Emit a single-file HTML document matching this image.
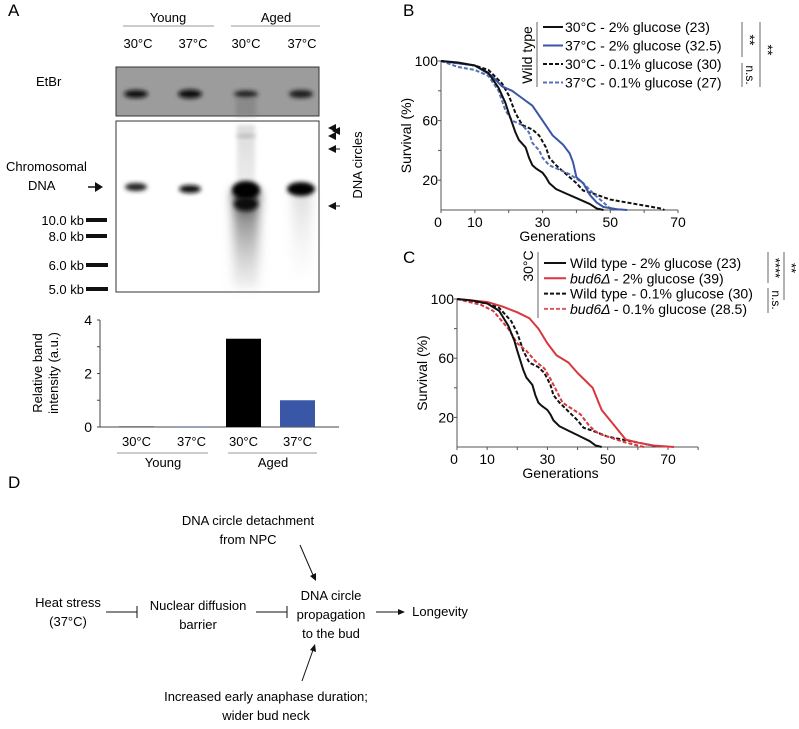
<!DOCTYPE html>
<html><head><meta charset="utf-8"><style>
body{margin:0;background:#fff;}
svg{display:block;font-family:"Liberation Sans",Arial,sans-serif;}
</style></head><body>
<svg id="fig" width="799" height="729" viewBox="0 0 799 729">
<defs>
<filter id="bl" x="-50%" y="-50%" width="200%" height="200%"><feGaussianBlur stdDeviation="2"/></filter>
<filter id="bl5" x="-50%" y="-50%" width="200%" height="200%"><feGaussianBlur stdDeviation="5"/></filter>
<linearGradient id="smear" x1="0" y1="0" x2="0" y2="1"><stop offset="0" stop-color="#000" stop-opacity="0.9"/><stop offset="0.3" stop-color="#555" stop-opacity="0.6"/><stop offset="1" stop-color="#bbb" stop-opacity="0.2"/></linearGradient>
<linearGradient id="smear2" x1="0" y1="0" x2="0" y2="1"><stop offset="0" stop-color="#999" stop-opacity="0.35"/><stop offset="1" stop-color="#ddd" stop-opacity="0.05"/></linearGradient>
</defs>
<g font-size="13">
<text x="8" y="16" font-size="17">A</text>
<text x="168" y="22" text-anchor="middle">Young</text>
<text x="276" y="22" text-anchor="middle">Aged</text>
<line x1="123" y1="26" x2="214" y2="26" stroke="#999"/><line x1="231" y1="26" x2="320" y2="26" stroke="#999"/>
<text x="138" y="48" text-anchor="middle">30°C</text><text x="193" y="48" text-anchor="middle">37°C</text>
<text x="246" y="48" text-anchor="middle">30°C</text><text x="302" y="48" text-anchor="middle">37°C</text>
<text x="36" y="86">EtBr</text>
<g>
<rect x="116" y="67" width="203" height="49" fill="#9c9c9c" stroke="#333"/>
<ellipse cx="136" cy="94" rx="12" ry="4" fill="#111" filter="url(#bl)"/>
<ellipse cx="190" cy="94" rx="12" ry="4.5" fill="#111" filter="url(#bl)"/>
<ellipse cx="246" cy="94" rx="12" ry="3.5" fill="#222" filter="url(#bl)"/>
<ellipse cx="301" cy="94" rx="12" ry="4" fill="#1a1a1a" filter="url(#bl)"/>
<rect x="236" y="98" width="20" height="18" fill="#777" opacity="0.5" filter="url(#bl)"/>
</g>
<g>
<rect x="116" y="121" width="203" height="171" fill="#fff" stroke="#333"/>
<rect x="237" y="125" width="18" height="165" fill="url(#smear2)" filter="url(#bl)"/>
<rect x="233" y="190" width="26" height="98" fill="url(#smear)" filter="url(#bl5)"/>
<rect x="292" y="190" width="20" height="90" fill="url(#smear2)" filter="url(#bl5)"/>
<ellipse cx="136" cy="187" rx="11" ry="4" fill="#222" filter="url(#bl)"/>
<ellipse cx="190" cy="189" rx="11" ry="4" fill="#111" filter="url(#bl)"/>
<ellipse cx="246" cy="190" rx="14" ry="9" fill="#000" filter="url(#bl)"/>
<ellipse cx="246" cy="204" rx="12" ry="7" fill="#111" filter="url(#bl)"/>
<ellipse cx="301" cy="189" rx="14" ry="7" fill="#000" filter="url(#bl)"/>
<ellipse cx="246" cy="136" rx="10" ry="2" fill="#bbb" filter="url(#bl)"/>
</g>
<text x="6" y="171">Chromosomal</text>
<text x="28" y="190">DNA</text>
<polygon points="95,182 103,187 95,192" fill="#111"/>
<line x1="88" y1="187" x2="96" y2="187" stroke="#111" stroke-width="1.5"/>
<g text-anchor="end">
<text x="84" y="225">10.0 kb</text><rect x="86" y="218" width="21" height="4" fill="#111"/>
<text x="84" y="241">8.0 kb</text><rect x="86" y="234" width="21" height="4" fill="#111"/>
<text x="84" y="270">6.0 kb</text><rect x="86" y="263" width="22" height="4" fill="#111"/>
<text x="84" y="294">5.0 kb</text><rect x="86" y="287" width="22" height="4" fill="#111"/>
</g>
<g fill="#111">
<polygon points="328,128 336,124 336,132"/><polygon points="332,131 340,127 340,135"/><polygon points="328,136 336,132 336,140"/>
<polygon points="328,149 336,145 336,153"/><line x1="335" y1="149" x2="340" y2="149" stroke="#111"/>
<polygon points="328,206 336,202 336,210"/><line x1="335" y1="206" x2="340" y2="206" stroke="#111"/>
</g>
<text transform="translate(362,165) rotate(-90)" text-anchor="middle">DNA circles</text>
</g>
<g id="barchart" font-size="13"></g>
<text x="403" y="16" font-size="17">B</text>
<g id="chartB" font-size="13"></g>
<text x="403" y="263" font-size="17">C</text>
<g id="chartC" font-size="13"></g>
<g font-size="13" text-anchor="middle">
<text x="8" y="488" font-size="17" text-anchor="start">D</text>
<text x="248" y="525">DNA circle detachment</text><text x="248" y="544">from NPC</text>
<text x="68" y="607">Heat stress</text><text x="68" y="626">(37°C)</text>
<line x1="106" y1="612" x2="137" y2="612" stroke="#111"/><line x1="137" y1="606" x2="137" y2="618" stroke="#111"/>
<text x="198" y="610">Nuclear diffusion</text><text x="198" y="629">barrier</text>
<line x1="256" y1="612" x2="287" y2="612" stroke="#111"/><line x1="287" y1="606" x2="287" y2="618" stroke="#111"/>
<text x="331" y="600">DNA circle</text><text x="331" y="619">propagation</text><text x="331" y="638">to the bud</text>
<line x1="376" y1="612" x2="400" y2="612" stroke="#111"/><polygon points="398,609 405,612 398,615" fill="#111"/>
<text x="440" y="616">Longevity</text>
<line x1="300" y1="545" x2="313" y2="575" stroke="#111"/><polygon points="310,576 316,581 316,573" fill="#111"/>
<line x1="302" y1="681" x2="313" y2="650" stroke="#111"/><polygon points="310,650 315,644 316,652" fill="#111"/>
<text x="266" y="701">Increased early anaphase duration;</text><text x="266" y="720">wider bud neck</text>
</g>
</svg>
<script>
const NS="http://www.w3.org/2000/svg";
function mk(parent,tag,attrs,text){const e=document.createElementNS(NS,tag);for(const k in attrs)e.setAttribute(k,attrs[k]);if(text!==undefined)e.textContent=text;parent.appendChild(e);return e;}

const barCategories=["Young 30°C","Young 37°C","Aged 30°C","Aged 37°C"];
const barValues=[0.02,0.02,3.3,1.0];
const barColors=["#111","#3a56a6","#000","#3a56a6"];
const barTicks=[0,2,4];
(function(){
 const g=document.getElementById('barchart');
 const x0=100,y0=427,yTop=320,vmax=4;
 const ys=v=>y0-(v/vmax)*(y0-yTop);
 mk(g,'line',{x1:x0,y1:yTop,x2:x0,y2:y0,stroke:'#444'});
 mk(g,'line',{x1:x0,y1:y0,x2:339,y2:y0,stroke:'#444'});
 for(let t=0;t<=4;t++){mk(g,'line',{x1:x0-3,y1:ys(t),x2:x0,y2:ys(t),stroke:'#444'});}
 barTicks.forEach(t=>{const tl=mk(g,'text',{x:x0-8,y:ys(t)+5,'text-anchor':'end','font-size':14},t);
 
 });
 const lab=mk(g,'text',{transform:'translate(42,373) rotate(-90)','text-anchor':'middle'},'Relative band');
 
 
 mk(g,'text',{transform:'translate(58,373) rotate(-90)','text-anchor':'middle'},'intensity (a.u.)');
 const step=55,first=119,w=35;
 barValues.forEach((v,i)=>{
  const x=first+i*step - (i>=2?(i-2)*1+3:0);
  const r=mk(g,'rect',{x:x,y:ys(v),width:w,height:y0-ys(v),fill:barColors[i]});
  
  
  mk(g,'text',{x:x+w/2,y:446,'text-anchor':'middle'},barCategories[i].split(' ')[1]);
 });
 mk(g,'line',{x1:117,y1:453,x2:208,y2:453,stroke:'#999'});
 mk(g,'line',{x1:228,y1:453,x2:317,y2:453,stroke:'#999'});
 mk(g,'text',{x:163,y:467,'text-anchor':'middle'},'Young');
 mk(g,'text',{x:273,y:467,'text-anchor':'middle'},'Aged');
})();

const wt2Gen=[0,5,10,14,17,19,20,22,23,25,26,27,28,30,31,32,34,37,40,42,44,46,48];
const wt2Surv=[100,99,97,92,82,72,65,52,47,42,35,30,28,25,22,18,14,11,8,6,4,1,0];
const wt37Gen=[0,10,15,18,21,24,27,30,33,36,38,39,40,42,44,46,48,52,55];
const wt37Surv=[100,97,90,83,80,75,70,60,50,44,38,32,22,18,10,5,2,0.5,0];
const wtLowGen=[0,10,14,18,20,22,24,27,29,31,32,34,37,40,42,45,50,55,60,65,66];
const wtLowSurv=[100,97,94,85,77,65,57,54,50,42,35,30,24,18,13,11,7,5,3,1,0];
const wt37LowGen=[0,5,10,14,17,19,21,24,26,27,29,30,32,35,38,42,45,48,50,51];
const wt37LowSurv=[100,96,94,90,80,67,60,57,52,45,40,35,30,27,24,18,11,5,1,0];
const bud2Gen=[0,10,15,20,24,27,30,33,37,40,43,45,47,48,50,52,54,56,60,65,72];
const bud2Surv=[100,98,95,91,87,80,70,62,57,50,44,40,30,25,20,15,10,5,3,1,0];
const budLowGen=[0,8,12,17,20,23,26,29,31,33,35,38,41,44,47,50,53,56,60,62];
const budLowSurv=[100,96,92,80,70,65,58,53,46,38,30,26,22,14,9,7,5,3,1,0];
const genTicks=[0,10,30,50,70];
const survTicks=[20,60,100];

function survivalChart(gId,ax,series,legend){
 const g=document.getElementById(gId);
 const xs=v=>ax.x0+v*(ax.x70-ax.x0)/70;
 const ys=v=>ax.y0-v*(ax.y0-ax.y100)/100;
 mk(g,'line',{x1:xs(0),y1:ys(100),x2:xs(0),y2:ys(0),stroke:'#555'});
 mk(g,'line',{x1:xs(0),y1:ys(0),x2:xs(ax.xmax),y2:ys(0),stroke:'#555'});
 for(let t=0;t<=ax.xmax;t+=10)mk(g,'line',{x1:xs(t),y1:ys(0),x2:xs(t),y2:ys(0)+3,stroke:'#555'});
 for(let t=20;t<=100;t+=20)mk(g,'line',{x1:xs(0)-3,y1:ys(t),x2:xs(0),y2:ys(t),stroke:'#555'});
 genTicks.forEach(t=>{const e=mk(g,'text',{x:xs(t)-(t===0?3:0),y:ys(0)+17,'text-anchor':'middle','font-size':14},t);
 
 });
 survTicks.forEach(t=>{const e=mk(g,'text',{x:xs(0)-3,y:ys(t)+5,'text-anchor':'end','font-size':14},t);
 
 });
 const xt=mk(g,'text',{x:(xs(0)+xs(70))/2-2,y:ys(0)+31,'text-anchor':'middle','font-size':14},'Generations');
 
 
 const yt=mk(g,'text',{transform:`translate(${xs(0)-30},${ys(50)}) rotate(-90)`,'text-anchor':'middle','font-size':14},'Survival (%)');
 
 
 series.forEach(s=>{
  let d='';
  s.gen.forEach((gv,i)=>{d+=(i?' L':'M')+xs(gv)+','+ys(s.surv[i]);});
  const p=mk(g,'path',{d:d,fill:'none',stroke:s.color,'stroke-width':2,'stroke-linejoin':'round','stroke-dasharray':s.dash?'4,2':'none'});
  
  
 });
 legend(g);
}
survivalChart('chartB',{x0:441,x70:678,y0:210,y100:61,xmax:70},[
 {gen:wtLowGen,surv:wtLowSurv,color:'#111',dash:true,name:'line-30c-low-glucose'},
 {gen:wt37LowGen,surv:wt37LowSurv,color:'#5571b5',dash:true,name:'line-37c-low-glucose'},
 {gen:wt37Gen,surv:wt37Surv,color:'#3a56a6',dash:false,name:'line-37c-2pct-glucose'},
 {gen:wt2Gen,surv:wt2Surv,color:'#111',dash:false,name:'line-30c-2pct-glucose'}],function(g){
 const rows=[['30°C - 2% glucose (23)','#111',false],['37°C - 2% glucose (32.5)','#3a56a6',false],['30°C - 0.1% glucose (30)','#111',true],['37°C - 0.1% glucose (27)','#5571b5',true]];
 rows.forEach((r,i)=>{const y=27+i*18.5;
  mk(g,'line',{x1:543,y1:y,x2:563,y2:y,stroke:r[1],'stroke-width':2,'stroke-dasharray':r[2]?'4,2':'none'});
  const t=mk(g,'text',{x:565,y:y+5,'font-size':14},r[0]);
  
  });
 mk(g,'line',{x1:537,y1:22,x2:537,y2:87,stroke:'#666'});
 mk(g,'text',{transform:'translate(532,55) rotate(-90)','text-anchor':'middle','font-size':14},'Wild type');
 mk(g,'line',{x1:742,y1:22,x2:742,y2:57,stroke:'#666'});
 mk(g,'line',{x1:742,y1:63,x2:742,y2:87,stroke:'#666'});
 mk(g,'line',{x1:760,y1:22,x2:760,y2:87,stroke:'#666'});
 mk(g,'text',{transform:'translate(745,40) rotate(90)','text-anchor':'middle','font-size':14},'**');
 mk(g,'text',{transform:'translate(746,75) rotate(90)','text-anchor':'middle','font-size':12},'n.s.');
 mk(g,'text',{transform:'translate(763,50) rotate(90)','text-anchor':'middle','font-size':14},'**');
});
survivalChart('chartC',{x0:457,x70:668,y0:447,y100:299,xmax:80},[
 {gen:wtLowGen,surv:wtLowSurv,color:'#111',dash:true,name:'line-wt-low-glucose'},
 {gen:budLowGen,surv:budLowSurv,color:'#d9363e',dash:true,name:'line-bud6-low-glucose'},
 {gen:bud2Gen,surv:bud2Surv,color:'#d9363e',dash:false,name:'line-bud6-2pct-glucose'},
 {gen:wt2Gen,surv:wt2Surv,color:'#111',dash:false,name:'line-wt-2pct-glucose'}],function(g){
 const rows=[['Wild type - 2% glucose (23)','#111',false,null],['- 2% glucose (39)','#d9363e',false,'bud6'],['Wild type - 0.1% glucose (30)','#111',true,null],['- 0.1% glucose (28.5)','#e05a60',true,'bud6']];
 rows.forEach((r,i)=>{const y=263+i*15.3;
  mk(g,'line',{x1:544,y1:y,x2:566,y2:y,stroke:r[1],'stroke-width':2,'stroke-dasharray':r[2]?'4,2':'none'});
  const t=mk(g,'text',{x:570,y:y+5,'font-size':14});
  
  
  if(r[3]){mk(t,'tspan',{'font-style':'italic'},'bud6\u0394 ');}
  mk(t,'tspan',{},r[0]);});
 mk(g,'line',{x1:538,y1:252,x2:538,y2:318,stroke:'#666'});
 mk(g,'text',{transform:'translate(533,266) rotate(-90)','text-anchor':'middle','font-size':14},'30°C');
 mk(g,'line',{x1:768,y1:252,x2:768,y2:283,stroke:'#666'});
 mk(g,'line',{x1:768,y1:288,x2:768,y2:313,stroke:'#666'});
 mk(g,'line',{x1:784,y1:252,x2:784,y2:300,stroke:'#666'});
 mk(g,'text',{transform:'translate(771,268) rotate(90)','text-anchor':'middle','font-size':13},'****');
 mk(g,'text',{transform:'translate(772,300) rotate(90)','text-anchor':'middle','font-size':12},'n.s.');
 mk(g,'text',{transform:'translate(787,268) rotate(90)','text-anchor':'middle','font-size':13},'**');
});
</script>
</body></html>
